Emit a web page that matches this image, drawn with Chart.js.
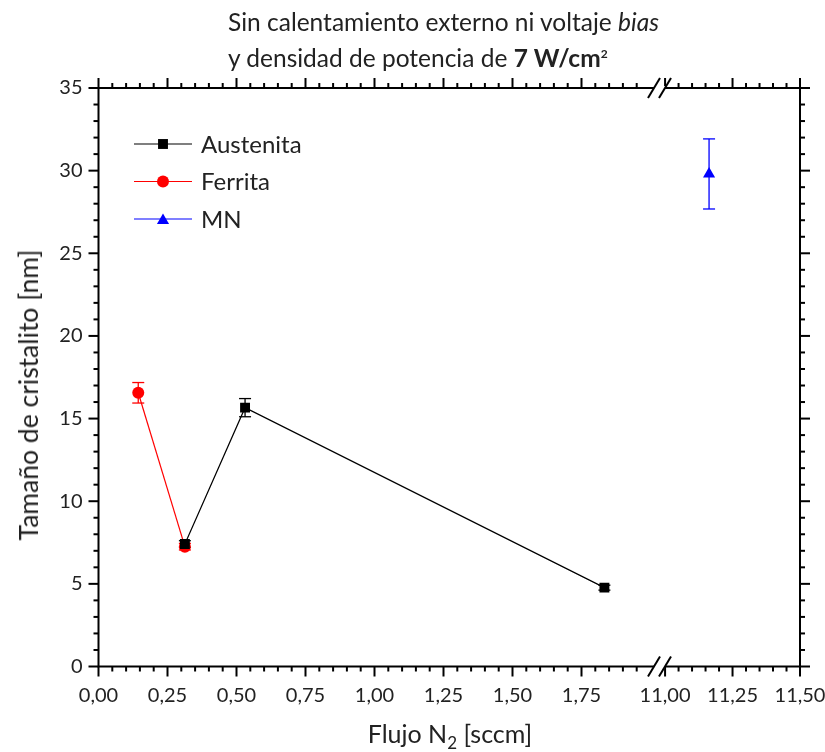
<!DOCTYPE html>
<html lang="es">
<head>
    <meta charset="UTF-8">
    <meta name="viewport" content="width=device-width, initial-scale=1.0">
    <title>Tamaño de cristalito</title>
    <script src="https://cdn.jsdelivr.net/npm/chart.js"></script>
    <style>
        body {
            margin: 0;
            background: #fff;
            font-family: Lato, sans-serif;
            color: #222;
        }

        .lienzo {
            position: relative;
            width: 825px;
            height: 752px;
        }

        .lienzo canvas {
            position: absolute;
            left: 0;
            top: 0;
        }

        .titulo {
            position: absolute;
            left: 228px;
            font-size: 24.5px;
            white-space: nowrap;
            line-height: 1;
        }

        .titulo sup {
            font-size: 12px;
        }

        .eje-y {
            position: absolute;
            left: 28px;
            top: 395px;
            font-size: 26.5px;
            white-space: nowrap;
            transform: translate(-50%, -50%) rotate(-90deg);
        }

        .eje-x {
            position: absolute;
            left: 450px;
            top: 735px;
            font-size: 25px;
            white-space: nowrap;
            transform: translate(-50%, -50%);
        }

        .eje-x sub {
            font-size: 17px;
        }
    </style>
</head>
<body>
    <div class="lienzo">
        <canvas id="grafico" width="825" height="752"></canvas>
        <div class="titulo" style="top: 10px;">Sin calentamiento externo ni voltaje <i>bias</i></div>
        <div class="titulo" style="top: 46px;">y densidad de potencia de <b>7 W/cm<sup>2</sup></b></div>
        <div class="eje-y">Tamaño de cristalito [nm]</div>
        <div class="eje-x">Flujo N<sub>2</sub> [sccm]</div>
    </div>

    <script>
        // datos (flujo en sccm, tamaño en nm)
        const austenitaX = [0.313, 0.531, 1.833];
        const austenitaY = [7.41, 15.66, 4.77];
        const austenitaErr = [0.2, 0.55, 0.15];

        const ferritaX = [0.144, 0.313];
        const ferritaY = [16.56, 7.25];
        const ferritaErr = [0.62, 0.2];

        const mnX = [11.163];
        const mnY = [29.8];
        const mnErr = [2.12];

        // marcas con etiqueta
        const ticksX1 = [0, 0.25, 0.5, 0.75, 1, 1.25, 1.5, 1.75];
        const ticksX2 = [11, 11.25, 11.5];
        const ticksY = [0, 5, 10, 15, 20, 25, 30, 35];

        const series = [
            { nombre: "Austenita", xs: austenitaX, ys: austenitaY, err: austenitaErr, color: "#000000", punto: "rect", radio: 7, eje: "x1", linea: true },
            { nombre: "Ferrita", xs: ferritaX, ys: ferritaY, err: ferritaErr, color: "#ff0000", punto: "circle", radio: 6, eje: "x1", linea: true },
            { nombre: "MN", xs: mnX, ys: mnY, err: mnErr, color: "#0000ff", punto: "triangle", radio: 7, eje: "x2", linea: false }
        ];

        function pasos(desde, hasta, paso) {
            const out = [];
            for (let i = 0; desde + i * paso <= hasta + 1e-9; i++) {
                out.push({ value: +(desde + i * paso).toFixed(4) });
            }
            return out;
        }

        function esMayor(v, lista) {
            return lista.some(m => Math.abs(m - v) < 1e-6);
        }

        function coma(v) {
            return v.toFixed(2).replace(".", ",");
        }

        function dibujarPunto(ctx, tipo, x, y, r, color) {
            ctx.save();
            ctx.fillStyle = color;
            ctx.beginPath();
            if (tipo === "rect") {
                const s = r * Math.SQRT1_2;
                ctx.rect(x - s, y - s, 2 * s, 2 * s);
            } else if (tipo === "circle") {
                ctx.arc(x, y, r, 0, Math.PI * 2);
            } else {
                ctx.moveTo(x, y - r);
                ctx.lineTo(x + r * Math.sin(2 * Math.PI / 3), y + r / 2);
                ctx.lineTo(x - r * Math.sin(2 * Math.PI / 3), y + r / 2);
                ctx.closePath();
            }
            ctx.fill();
            ctx.restore();
        }

        function linea(ctx, x1, y1, x2, y2) {
            ctx.beginPath();
            ctx.moveTo(x1, y1);
            ctx.lineTo(x2, y2);
            ctx.stroke();
        }

        // sin relleno extra por las etiquetas de los extremos
        function fijarAlto(s) {
            s.height = 85.5;
            s.paddingLeft = 0;
            s.paddingRight = 0;
        }

        const marcoPlugin = {
            id: "marco",
            beforeDatasetsDraw(chart) {
                // barras de error
                const ctx = chart.ctx;
                const ys = chart.scales.y;
                chart.data.datasets.forEach((ds, i) => {
                    const meta = chart.getDatasetMeta(i);
                    ctx.save();
                    ctx.strokeStyle = ds.borderColor;
                    ctx.lineWidth = 1.3;
                    ds.data.forEach((p, j) => {
                        const e = ds.errores[j];
                        const px = meta.xScale.getPixelForValue(p.x);
                        const yTop = ys.getPixelForValue(p.y + e);
                        const yBot = ys.getPixelForValue(p.y - e);
                        linea(ctx, px, yTop, px, yBot);
                        linea(ctx, px - 6, yTop, px + 6, yTop);
                        linea(ctx, px - 6, yBot, px + 6, yBot);
                    });
                    ctx.restore();
                });
            },
            afterDraw(chart) {
                const ctx = chart.ctx;
                const { left, right, top, bottom } = chart.chartArea;
                const ys = chart.scales.y;
                const x1 = chart.scales.x1;
                const x2 = chart.scales.x2;

                ctx.save();
                ctx.strokeStyle = "#000";
                ctx.lineWidth = 2;
                ctx.lineCap = "butt";

                // marco
                ctx.strokeRect(left, top, right - left, bottom - top);

                // marcas eje y (izquierda y derecha)
                ys.ticks.forEach(t => {
                    const py = ys.getPixelForValue(t.value);
                    const len = esMayor(t.value, ticksY) ? 10 : 5;
                    linea(ctx, left - len, py, left, py);
                    linea(ctx, right, py, right + len, py);
                });

                // marcas eje x (abajo y arriba)
                [[x1, ticksX1], [x2, ticksX2]].forEach(([s, mayores]) => {
                    s.ticks.forEach(t => {
                        const px = s.getPixelForValue(t.value);
                        const len = esMayor(t.value, mayores) ? 10 : 5;
                        linea(ctx, px, bottom, px, bottom + len);
                        linea(ctx, px, top - len, px, top);
                    });
                });

                // corte del eje
                const c1 = x2.left + 3.5;
                const c2 = x2.left + 14.5;
                [top, bottom].forEach(y0 => {
                    ctx.fillStyle = "#fff";
                    ctx.fillRect(c1, y0 - 2, c2 - c1, 4);
                    linea(ctx, c1 - 6, y0 + 10, c1 + 6, y0 - 10);
                    linea(ctx, c2 - 6, y0 + 10, c2 + 6, y0 - 10);
                });
                ctx.restore();

                // leyenda
                ctx.save();
                ctx.font = "24px Lato";
                ctx.textBaseline = "middle";
                series.forEach((s, i) => {
                    const yl = 144 + i * 37.5;
                    ctx.strokeStyle = s.color;
                    ctx.lineWidth = 1.2;
                    linea(ctx, 134, yl, 192, yl);
                    dibujarPunto(ctx, s.punto, 163, yl + (s.punto === "triangle" ? 1.5 : 0), s.radio, s.color);
                    ctx.fillStyle = "#222";
                    ctx.fillText(s.nombre, 201, yl + 1);
                });
                ctx.restore();
            }
        };

        Chart.defaults.font.family = "Lato";
        Chart.defaults.color = "#222";

        const datasets = series.map(s => ({
            label: s.nombre,
            data: s.xs.map((x, i) => ({ x: x, y: s.ys[i] })),
            errores: s.err,
            xAxisID: s.eje,
            yAxisID: "y",
            showLine: s.linea,
            borderColor: s.color,
            backgroundColor: s.color,
            borderWidth: 1.2,
            pointStyle: s.punto,
            pointRadius: s.radio,
            pointHoverRadius: s.radio,
            pointBorderWidth: 0
        }));

        const grafico = new Chart(document.getElementById("grafico"), {
            type: "scatter",
            data: { datasets: datasets },
            options: {
                responsive: false,
                animation: false,
                layout: { padding: { left: 0, right: 25, top: 88, bottom: 0 } },
                plugins: {
                    legend: { display: false },
                    tooltip: { enabled: false }
                },
                scales: {
                    x1: {
                        type: "linear",
                        position: "bottom",
                        stack: "flujo",
                        stackWeight: 552,
                        min: 0,
                        max: 2.0,
                        grid: { display: false, drawTicks: false },
                        border: { display: false },
                        afterBuildTicks: s => { s.ticks = pasos(0, 1.95, 0.05); },
                        afterFit: fijarAlto,
                        ticks: {
                            autoSkip: false,
                            maxRotation: 0,
                            padding: 17,
                            font: { size: 20 },
                            callback: v => esMayor(v, ticksX1) ? coma(v) : ""
                        }
                    },
                    x2: {
                        type: "linear",
                        position: "bottom",
                        stack: "flujo",
                        stackWeight: 149.5,
                        min: 10.946,
                        max: 11.5,
                        grid: { display: false, drawTicks: false },
                        border: { display: false },
                        afterBuildTicks: s => { s.ticks = pasos(11, 11.5, 0.05); },
                        afterFit: fijarAlto,
                        ticks: {
                            autoSkip: false,
                            maxRotation: 0,
                            padding: 17,
                            font: { size: 20 },
                            callback: v => esMayor(v, ticksX2) ? coma(v) : ""
                        }
                    },
                    y: {
                        type: "linear",
                        position: "left",
                        min: 0,
                        max: 35,
                        grid: { display: false, drawTicks: false },
                        border: { display: false },
                        afterBuildTicks: s => { s.ticks = pasos(0, 35, 1); },
                        afterFit: s => { s.width = 98.5; s.paddingTop = 0; s.paddingBottom = 0; },
                        ticks: {
                            autoSkip: false,
                            padding: 16,
                            font: { size: 20 },
                            callback: v => esMayor(v, ticksY) ? String(v) : ""
                        }
                    }
                }
            },
            plugins: [marcoPlugin]
        });
    </script>
</body>
</html>
